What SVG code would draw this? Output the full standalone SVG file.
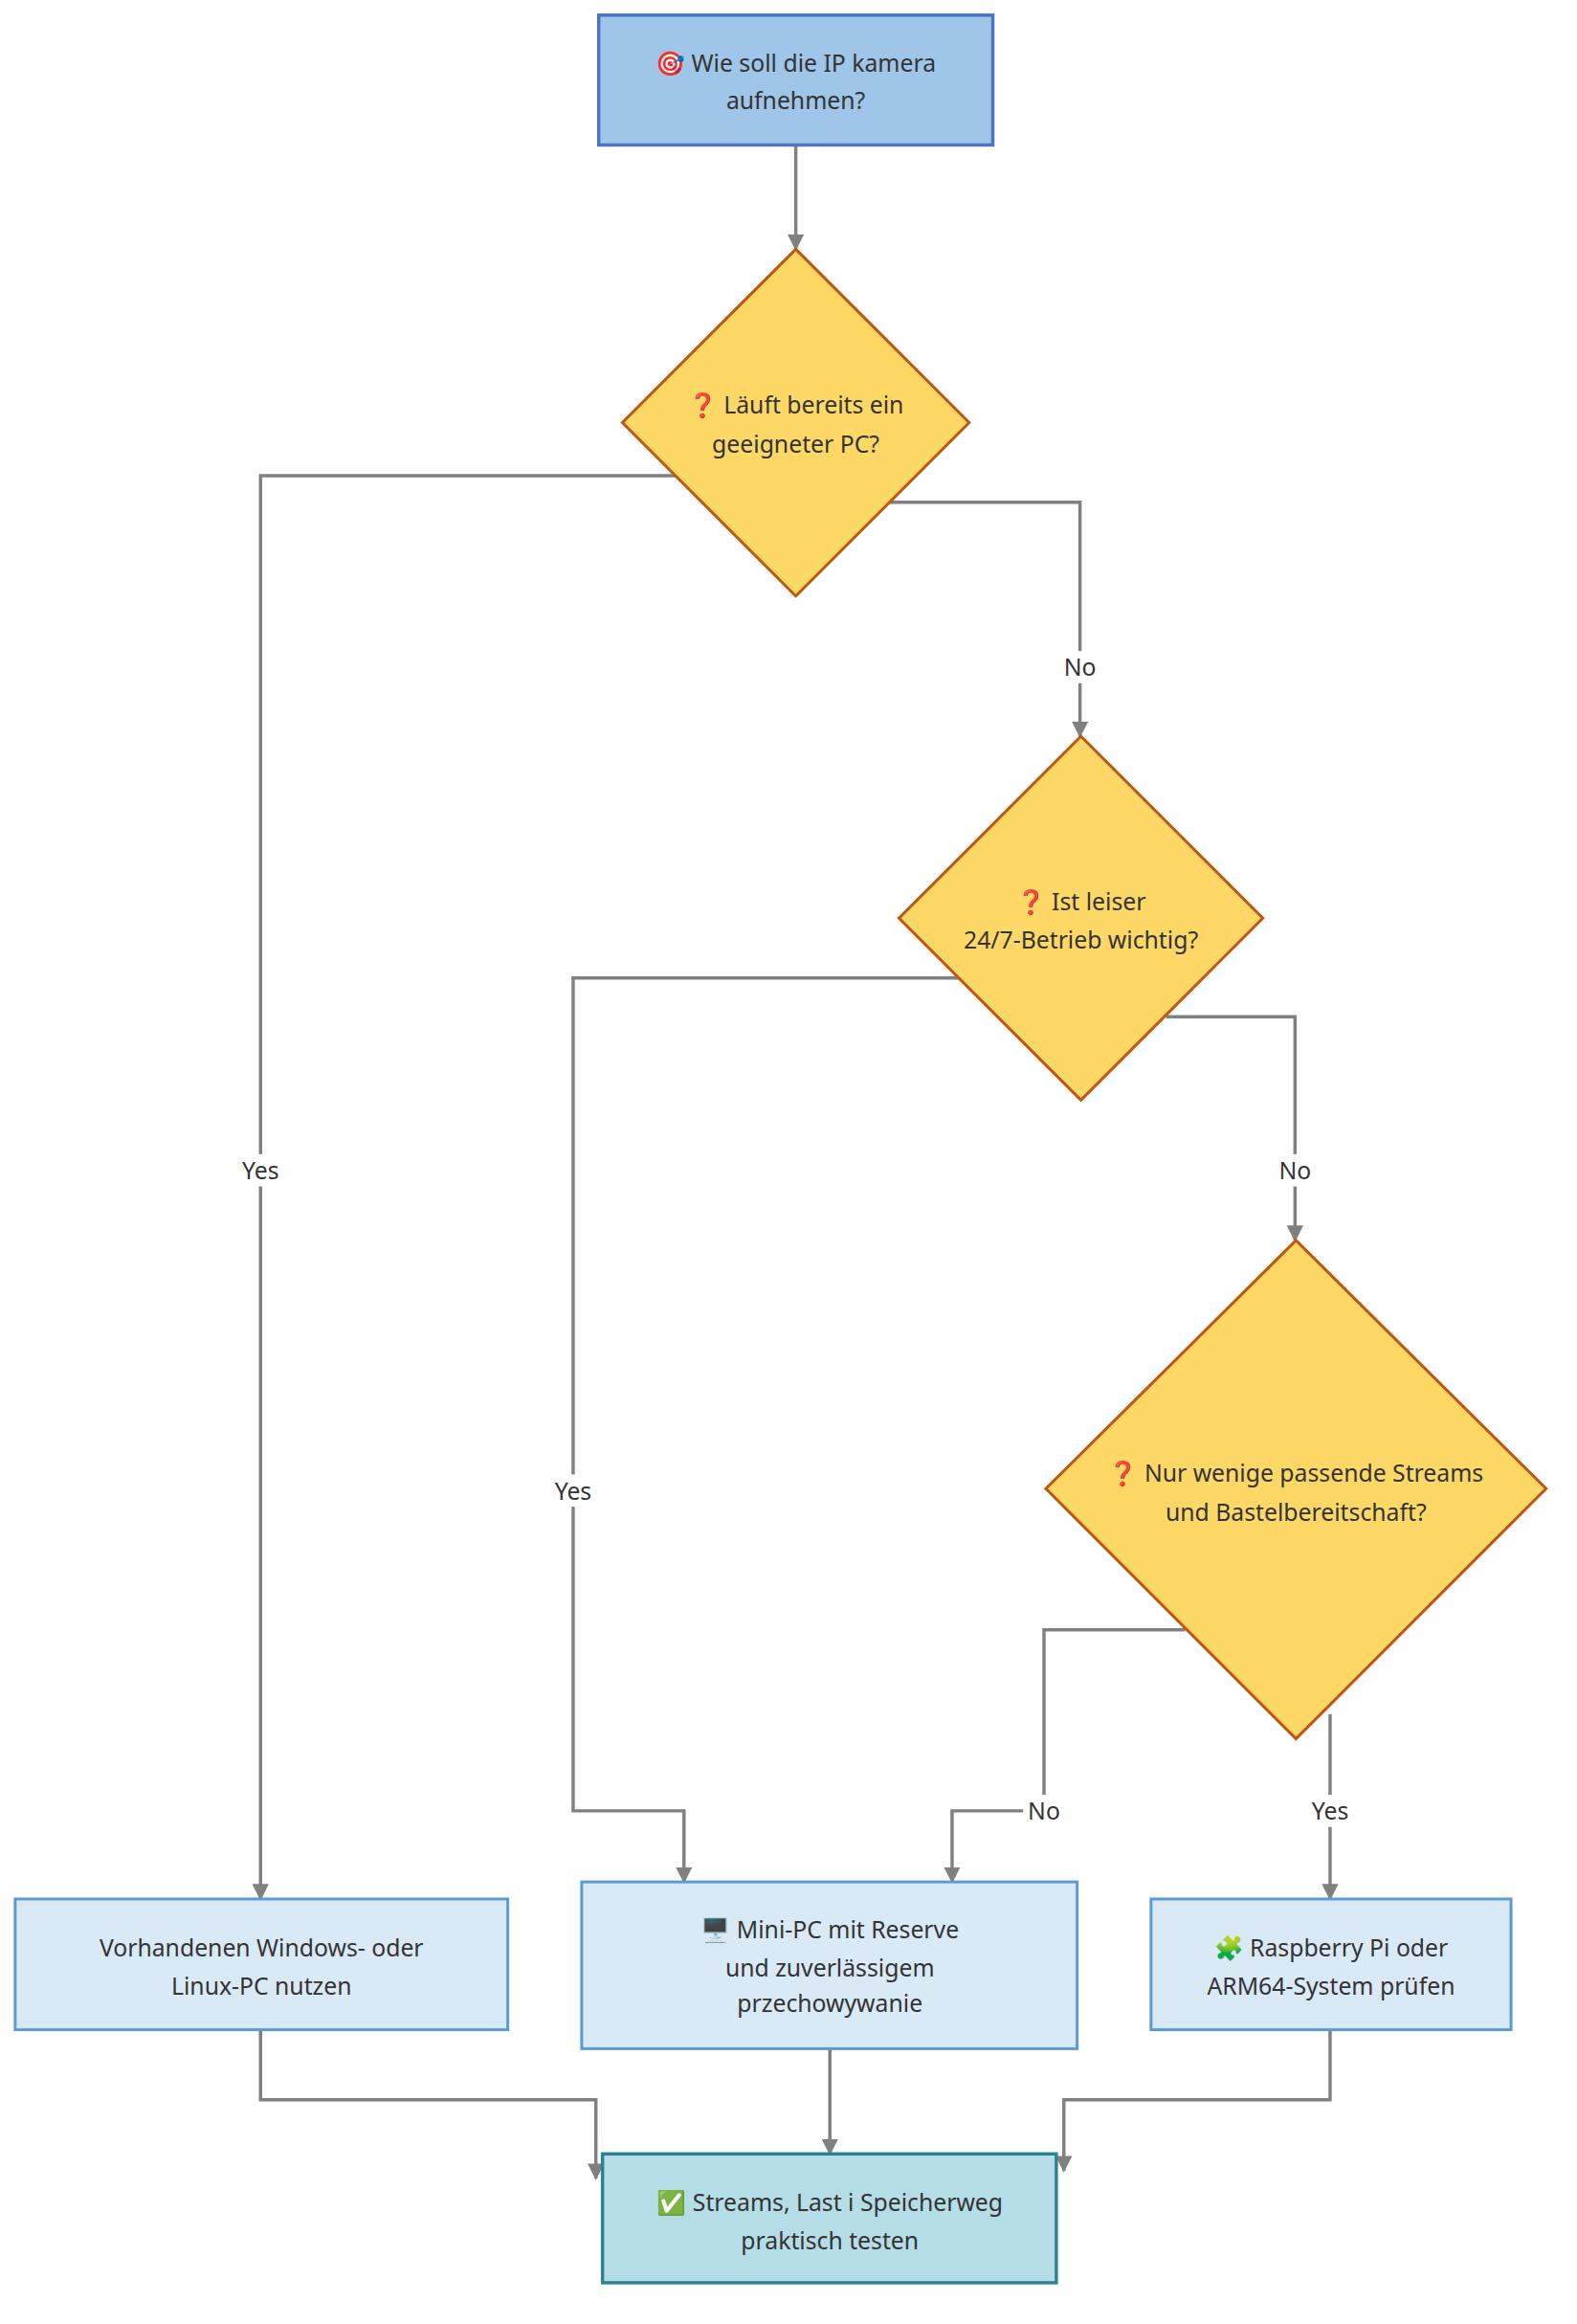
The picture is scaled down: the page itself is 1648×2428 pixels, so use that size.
<svg xmlns="http://www.w3.org/2000/svg" width="1648" height="2428" viewBox="0 0 1648 2428">
<style>
text{font-family:"Noto Sans","Open Sans",sans-serif;font-size:25px;fill:#333;text-anchor:middle;dominant-baseline:central}
.e{fill:none;stroke:#808080;stroke-width:3.5}
.lbl{fill:#fff}
.dia{fill:#fdd866;stroke:#c0560f;stroke-width:3}
.box{fill:#d9eaf6;stroke:#5b9bd5;stroke-width:3}
</style>
<defs><marker id="a" viewBox="0 0 10 10" refX="9" refY="5" markerWidth="5" markerHeight="5" orient="auto"><path d="M0,0L10,5L0,10z" fill="#808080"/></marker></defs>
<g transform="scale(0.99)">
<g id="connectors">
<path class="e" marker-end="url(#a)" d="M840,153V263"/>
<path class="e" marker-end="url(#a)" d="M718,502H275V2004"/>
<path class="e" marker-end="url(#a)" d="M938,530H1140V777"/>
<path class="e" marker-end="url(#a)" d="M1012,1032H605V1911H722V1986"/>
<path class="e" marker-end="url(#a)" d="M1231,1073H1367V1309"/>
<path class="e" marker-end="url(#a)" d="M1251,1720H1102V1911H1005V1986"/>
<path class="e" marker-end="url(#a)" d="M1404,1809V2004"/>
<path class="e" marker-end="url(#a)" d="M275,2142V2216H629V2299"/>
<path class="e" marker-end="url(#a)" d="M876,2162V2273"/>
<path class="e" marker-end="url(#a)" d="M1404,2142V2216H1123V2291"/>
<rect class="lbl" x="250" y="1218" width="50" height="34"/><text x="275" y="1235">Yes</text>
<rect class="lbl" x="1118" y="687" width="44" height="34"/><text x="1140" y="704">No</text>
<rect class="lbl" x="580" y="1556" width="50" height="34"/><text x="605" y="1573">Yes</text>
<rect class="lbl" x="1345" y="1218" width="44" height="34"/><text x="1367" y="1235">No</text>
<rect class="lbl" x="1080" y="1894" width="44" height="34"/><text x="1102" y="1911">No</text>
<rect class="lbl" x="1379" y="1894" width="50" height="34"/><text x="1404" y="1911">Yes</text>
</g>
<g id="start"><rect x="632" y="16" width="416" height="137" fill="#9fc5e8" stroke="#4a74c9" stroke-width="3.5"/><text x="840" y="66">🎯 Wie soll die IP kamera</text><text x="840" y="106">aufnehmen?</text></g>
<g id="d1"><polygon class="dia" points="840,263 1023,446 840,629 657,446"/><text x="840" y="427">❓ Läuft bereits ein</text><text x="840" y="468">geeigneter PC?</text></g>
<g id="d2"><polygon class="dia" points="1141,777 1333,969 1141,1161 949,969"/><text x="1141" y="951">❓ Ist leiser</text><text x="1141" y="991">24/7-Betrieb wichtig?</text></g>
<g id="d3"><polygon class="dia" points="1368,1309 1632,1571 1368,1835 1104,1571"/><text x="1368" y="1554">❓ Nur wenige passende Streams</text><text x="1368" y="1595">und Bastelbereitschaft?</text></g>
<g id="pc"><rect class="box" x="16" y="2004" width="520" height="138"/><text x="276" y="2055">Vorhandenen Windows- oder</text><text x="276" y="2095">Linux-PC nutzen</text></g>
<g id="mini"><rect class="box" x="614" y="1986" width="523" height="176"/><text x="876" y="2036">🖥️ Mini-PC mit Reserve</text><text x="876" y="2076">und zuverlässigem</text><text x="876" y="2114">przechowywanie</text></g>
<g id="pi"><rect class="box" x="1215" y="2004" width="380" height="138"/><text x="1405" y="2055">🧩 Raspberry Pi oder</text><text x="1405" y="2095">ARM64-System prüfen</text></g>
<g id="end"><rect x="636" y="2273" width="479" height="136" fill="#b5dde7" stroke="#2d8291" stroke-width="3.5"/><text x="876" y="2324">✅ Streams, Last i Speicherweg</text><text x="876" y="2364">praktisch testen</text></g>
</g>
</svg>
